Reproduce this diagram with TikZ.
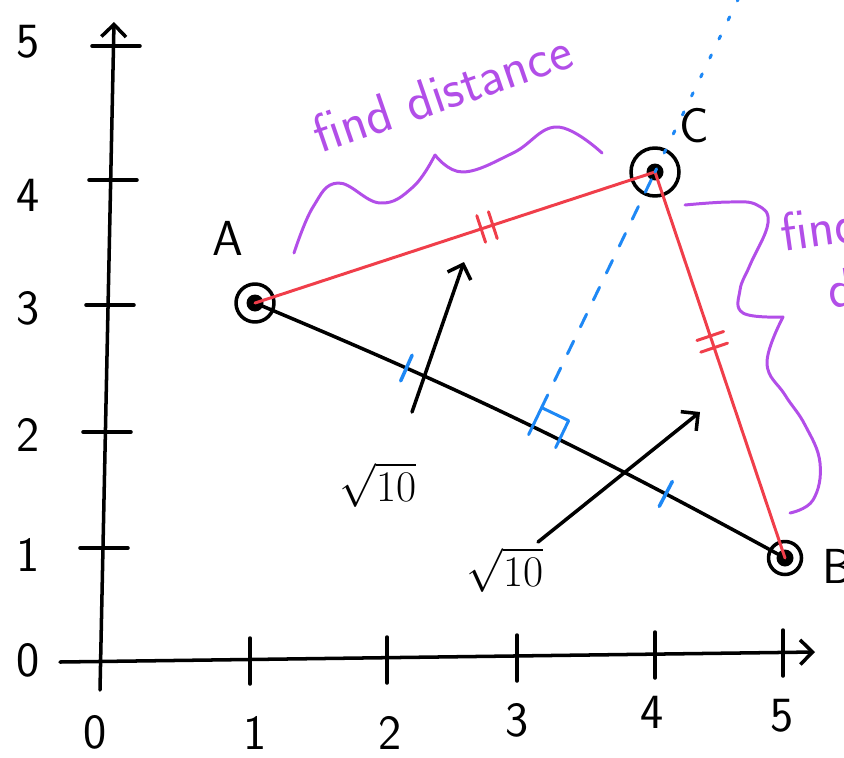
\documentclass[tikz,border=0pt]{standalone}
\usetikzlibrary{calc,arrows.meta,decorations.markings}
\definecolor{penred}{RGB}{240,62,74}
\definecolor{penblue}{RGB}{30,136,245}
\definecolor{penpurple}{RGB}{178,78,232}
\tikzset{
  pen/.style={line width=2pt, line cap=round, line join=round},
  ink/.style={pen, line width=1.7pt},
  ring/.style={circle, draw, pen, inner sep=0pt},
  hand/.style={font=\sffamily\fontsize{28}{34}\selectfont, inner sep=1pt},
  note/.style={penpurple, font=\sffamily\fontsize{31}{36}\selectfont},
  barb/.style={-{Straight Barb[length=7pt,width=14pt]}},
  redticks/.style={postaction={decorate}, decoration={markings,
      mark=at position #1 with {\draw[penred, ink] (-3.5pt,-8pt) -- (-3.5pt,8pt) (3.5pt,-8pt) -- (3.5pt,8pt);}}},
}
\begin{document}
\begin{tikzpicture}[x=0.02cm, y=-0.02cm, hand]
\useasboundingbox (0,0) rectangle (844,757);
\clip (0,0) rectangle (844,757);

% axes
\coordinate (ybot) at (100,690);
\coordinate (ytop) at (114,22);
\coordinate (xleft) at (60,662);
\coordinate (xright) at (815,652);
\draw[pen, barb] (ybot) -- (ytop);
\draw[pen, barb] (xleft) -- (xright);
\foreach \y/\x in {548/104, 432/107, 305/110, 180/113, 46/116}
  \draw[pen] (\x-24,\y) -- (\x+24,\y);
\foreach \x/\y in {250/660, 387/659, 517/657, 655/654, 783/652}
  \draw[pen] (\x,\y-22) -- (\x,\y+24);
\foreach \y/\n in {42/5, 195/4, 308/3, 435/2, 555/1, 660/0}
  \node (ylab\n) at (28,\y) {\n};
\foreach \x/\y/\n in {95/732/0, 255/733/1, 390/733/2, 517/720/3, 652/712/4, 782/716/5}
  \node (xlab\n) at (\x,\y) {\n};

% points
\node[ring, minimum size=0.76cm] (A) at (255,303) {};
\node[ring, minimum size=0.96cm] (C) at (655,172) {};
\node[ring, minimum size=0.66cm] (B) at (785,558) {};
\foreach \p in {A,B,C}
  \fill (\p.center) circle[radius=0.17cm];
\node (labA) at (228,238) {A};
\node (labC) at (694,126) {C};
\node[anchor=west] (labB) at (820,566) {B};

% sides
\draw[pen, postaction={decorate}, decoration={markings,
    mark=at position 0.28 with {\draw[penblue, pen] (0,-8pt) -- (0,8pt);},
    mark=at position 0.77 with {\draw[penblue, pen] (0,-8pt) -- (0,8pt);}}]
  (A.center) to[bend left=3] (B.center);
\draw[penred, ink, redticks=0.58] (A.center) -- (C.center);
\draw[penred, ink, redticks=0.44] (C.center) -- (B.center);

% perpendicular from C
\coordinate (F) at ($(A.center)!(C.center)!(B.center)$);
\coordinate (Fc) at ($(F)!0.6cm!(C.center)$);
\coordinate (Fb) at ($(F)!0.6cm!(B.center)$);
\draw[penblue, ink, dash pattern=on 8pt off 9pt] (Fc) -- (C.center);
\draw[penblue, ink, dash pattern=on 2pt off 10pt] (C.center) -- ($(F)!1.8!(C.center)$);
\draw[penblue, ink] (F) -- (Fc) -- ($(Fc)+(Fb)-(F)$) -- (Fb);

% root labels
\node (rootA) at (378,485) {$\sqrt{10}$};
\node (rootB) at (505,570) {$\sqrt{10}$};
\coordinate (t1) at (412,412);
\coordinate (h1) at (464,262);
\coordinate (t2) at (538,542);
\coordinate (h2) at (700,412);
\draw[pen, barb] (t1) -- (h1);
\draw[pen, barb] (t2) -- (h2);

% braces
\draw[penpurple, ink] plot[smooth, tension=0.7] coordinates {(294,253) (313,207) (338,183) (380,203) (413,187) (435,155)};
\draw[penpurple, ink] plot[smooth, tension=0.7] coordinates {(435,155) (463,172) (513,153) (557,127) (602,153)};
\node[note, rotate=19] (findAC) at (442,92) {find distance};
\draw[penpurple, ink] plot[smooth, tension=0.7] coordinates {(685,205) (730,202) (757,205) (768,223) (750,265) (740,290) (743,313) (783,317)};
\draw[penpurple, ink] plot[smooth, tension=0.7] coordinates {(783,317) (767,363) (785,395) (805,425) (820,463) (813,500) (790,513)};
\node[note, rotate=8, anchor=north west, align=left] (findCB) at (776,212) {find\\\hspace*{0.7em}distance};
\end{tikzpicture}
\end{document}
